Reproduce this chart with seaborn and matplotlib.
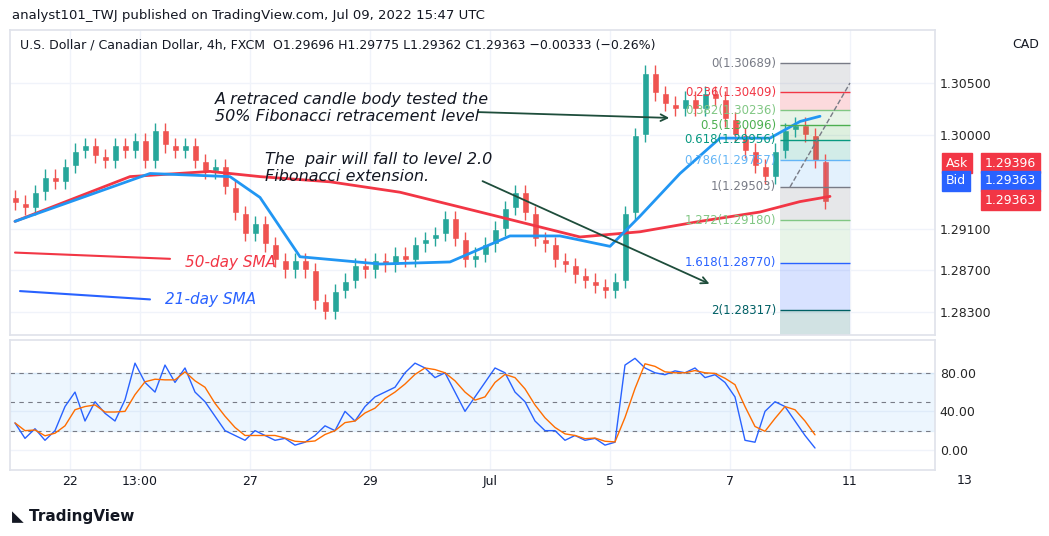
import numpy as np
import pandas as pd
import matplotlib
matplotlib.use("Agg")
import matplotlib.pyplot as plt
import seaborn as sns

# candle closes (4h)
closes = [1.2935, 1.2930, 1.2945, 1.2960, 1.2955, 1.2970, 1.2985, 1.2990, 1.2980, 1.2975,
          1.2990, 1.2985, 1.2995, 1.2975, 1.3005, 1.2990, 1.2985, 1.2990, 1.2975, 1.2965,
          1.2970, 1.2950, 1.2925, 1.2905, 1.2915, 1.2895, 1.2880, 1.2870, 1.2880, 1.2870,
          1.2840, 1.2830, 1.2850, 1.2860, 1.2875, 1.2870, 1.2880, 1.2875, 1.2885, 1.2880,
          1.2895, 1.2900, 1.2905, 1.2920, 1.2900, 1.2880, 1.2885, 1.2895, 1.2910, 1.2930,
          1.2945, 1.2925, 1.2900, 1.2895, 1.2880, 1.2875, 1.2865, 1.2860, 1.2855, 1.2850,
          1.2860, 1.2925, 1.3000, 1.3060, 1.3040, 1.3030, 1.3025, 1.3035, 1.3025, 1.3040,
          1.3035, 1.3015, 1.3000, 1.2985, 1.2970, 1.2960, 1.2985, 1.3005, 1.3010, 1.3000,
          1.2975, 1.2936]
first_open = 1.2940

# moving averages sampled at candle index
sma21_idx = [0, 13.5, 21.5, 24.5, 28.5, 36.5, 43.5, 49.5, 54.5, 59.5, 62.5, 66.5, 70.5, 75.5, 78.5, 80.5]
sma21_val = [1.2917, 1.2963, 1.2960, 1.2940, 1.2883, 1.2876, 1.2878, 1.2903, 1.2903, 1.2893, 1.2922, 1.2963, 1.2997, 1.2997, 1.3013, 1.3018]
sma50_idx = [0, 11.5, 19.5, 24.5, 31.5, 38.5, 46.5, 56.5, 62.5, 68.5, 74.5, 78.5, 81.5]
sma50_val = [1.2917, 1.2960, 1.2965, 1.2960, 1.2955, 1.2945, 1.2926, 1.2902, 1.2907, 1.2917, 1.2926, 1.2936, 1.2941]

# stochastic %K
stoch_k = [28, 12, 22, 10, 20, 45, 60, 30, 50, 38, 30, 52, 90, 70, 60, 88, 70, 85, 60, 50,
           35, 20, 15, 10, 20, 15, 10, 12, 5, 8, 15, 25, 20, 40, 30, 45, 55, 60, 65, 80,
           90, 85, 75, 80, 60, 40, 55, 70, 85, 80, 60, 50, 30, 20, 20, 10, 15, 10, 12, 5,
           8, 88, 95, 85, 80, 78, 82, 80, 85, 75, 78, 70, 55, 10, 8, 40, 50, 45, 30, 15, 2]

fib_ratios = ["0", "0.236", "0.382", "0.5", "0.618", "0.786", "1", "1.272", "1.618", "2"]
fib_prices = [1.30689, 1.30409, 1.30236, 1.30096, 1.29956, 1.29757, 1.29503, 1.29180, 1.28770, 1.28317]
fib_colors = ["#787b86", "#f23645", "#81c784", "#4caf50", "#089981", "#64b5f6", "#787b86", "#81c784", "#2962ff", "#006064"]

day_ticks = [5.5, 12.5, 23.5, 35.5, 47.5, 59.5, 71.5, 83.5]
day_labels = ["22", "13:00", "27", "29", "Jul", "5", "7", "11"]
price_ticks = [1.305, 1.300, 1.291, 1.287, 1.283]
stoch_ticks = [80, 40, 0]

sns.set_theme(style="white")
W, H = 1049, 536
fig = plt.figure(figsize=(W / 100, H / 100), dpi=100)

def rect(x0, y0, x1, y1):
    return [x0 / W, 1 - y1 / H, (x1 - x0) / W, (y1 - y0) / H]

ax = fig.add_axes(rect(10, 30, 935, 335))
ax2 = fig.add_axes(rect(10, 340, 935, 470), sharex=ax)

df = pd.DataFrame({"close": closes})
df["open"] = [first_open] + closes[:-1]
df["idx"] = np.arange(len(df))
up = "#26a69a"
dn = "#ef5350"
for i, r in df.iterrows():
    col = up if r.close >= r.open else dn
    lo, hi = min(r.open, r.close), max(r.open, r.close)
    ax.vlines(r.idx, lo - 0.0007, hi + 0.0007, color=col, lw=1)
    ax.bar(r.idx, max(hi - lo, 0.0001), bottom=lo, width=0.7, color=col)

sns.lineplot(x=sma50_idx, y=sma50_val, ax=ax, color="#f23645", lw=2)
sns.lineplot(x=sma21_idx, y=sma21_val, ax=ax, color="#2196f3", lw=2)

# hand drawn legend lines
ax.plot([0, 15.5], [1.2887, 1.2881], color="#f23645", lw=1.5)
ax.plot([0.5, 13.5], [1.2850, 1.2842], color="#2962ff", lw=1.5)
ax.text(17, 1.2877, "50-day SMA", color="#f23645", style="italic", fontsize=11, va="center")
ax.text(15, 1.2842, "21-day SMA", color="#2962ff", style="italic", fontsize=11, va="center")

# fibonacci tool
fx0, fx1 = 76.5, 83.5
for k in range(len(fib_prices)):
    bottom = fib_prices[k + 1] if k + 1 < len(fib_prices) else 1.2808
    ax.fill_between([fx0, fx1], bottom, fib_prices[k], color=fib_colors[k], alpha=0.18, lw=0)
    ax.hlines(fib_prices[k], fx0, fx1, color=fib_colors[k], lw=1)
    ax.text(fx0 - 0.4, fib_prices[k], f"{fib_ratios[k]}({fib_prices[k]:.5f})",
            color=fib_colors[k], fontsize=8.5, ha="right", va="center")
ax.plot([77.5, 83.5], [1.2950, 1.3050], color="#787b86", lw=1, ls="--")

ax.set_ylim(1.28078, 1.31009)
ax.yaxis.tick_right()
ax.set_yticks(price_ticks)
ax.set_yticklabels([f"{p:.5f}" for p in price_ticks], fontsize=9)
ax.set_xticks(day_ticks)
ax.tick_params(axis="x", labelbottom=False, length=0)
ax.tick_params(axis="y", length=0)
ax.grid(True, color="#f0f3fa", lw=1)
ax.set_ylabel("")

# price tags (figure pixels)
def tag(x, y, txt, col):
    fig.text(x / W, 1 - y / H, txt, color="white", fontsize=9, va="center",
             bbox=dict(boxstyle="square,pad=0.3", fc=col, ec=col))

tag(946, 163, "Ask", "#f23645")
tag(985, 163, "1.29396", "#f23645")
tag(946, 181, "Bid", "#2962ff")
tag(985, 181, "1.29363", "#2962ff")
tag(985, 200, "1.29363", "#f23645")

# stochastic panel
k = pd.Series(stoch_k, dtype=float)
d = k.rolling(3, min_periods=1).mean()
ax2.axhspan(20, 80, color="#2196f3", alpha=0.08)
for lv in [80, 50, 20]:
    ax2.axhline(lv, color="#787b86", lw=0.8, ls=(0, (4, 4)))
sns.lineplot(x=k.index, y=k.values, ax=ax2, color="#2962ff", lw=1)
sns.lineplot(x=d.index, y=d.values, ax=ax2, color="#ff6d00", lw=1)
ax2.set_ylim(-20.8, 114)
ax2.yaxis.tick_right()
ax2.set_yticks(stoch_ticks)
ax2.set_yticklabels(["80.00", "40.00", "0.00"], fontsize=9)
ax2.set_xticks(day_ticks)
ax2.set_xticklabels(day_labels, fontsize=9, color="#131722")
ax2.set_xlim(-0.5, 92)
ax2.set_xlabel("")
ax2.set_ylabel("")
ax2.tick_params(length=0)
ax2.grid(True, color="#f0f3fa", lw=1)
for a in (ax, ax2):
    for s in a.spines.values():
        s.set_color("#e0e3eb")
fig.text(965 / W, 1 - 481 / H, "13", fontsize=9, color="#131722", ha="center", va="center")

# annotations
def fp(x, y):
    return (x, H - y)

fig.text(215 / W, 1 - 108 / H, "A retraced candle body tested the\n50% Fibonacci retracement level",
         style="italic", fontsize=11.5, color="#131722", va="center")
fig.text(265 / W, 1 - 168 / H, "The  pair will fall to level 2.0\nFibonacci extension.",
         style="italic", fontsize=11.5, color="#131722", va="center")
ax.annotate("", xy=fp(672, 118), xytext=fp(475, 112), xycoords="figure pixels", textcoords="figure pixels",
            arrowprops=dict(arrowstyle="->", color="#1e4d3b", lw=1.3))
ax.annotate("", xy=fp(712, 285), xytext=fp(480, 180), xycoords="figure pixels", textcoords="figure pixels",
            arrowprops=dict(arrowstyle="->", color="#1e4d3b", lw=1.3))

fig.text(12 / W, 1 - 16 / H, "analyst101_TWJ published on TradingView.com, Jul 09, 2022 15:47 UTC",
         fontsize=9.5, color="#131722", va="center")
fig.text(20 / W, 1 - 45 / H, "U.S. Dollar / Canadian Dollar, 4h, FXCM  O1.29696 H1.29775 L1.29362 C1.29363 \u22120.00333 (\u22120.26%)",
         fontsize=9, color="#131722", va="center")
fig.text(1012 / W, 1 - 45 / H, "CAD", fontsize=9, color="#131722", va="center")
fig.text(12 / W, 1 - 517 / H, "\u25e3 TradingView", fontsize=11, color="#131722", va="center", weight="bold")

fig.savefig("out.png", dpi=100, facecolor="white")
